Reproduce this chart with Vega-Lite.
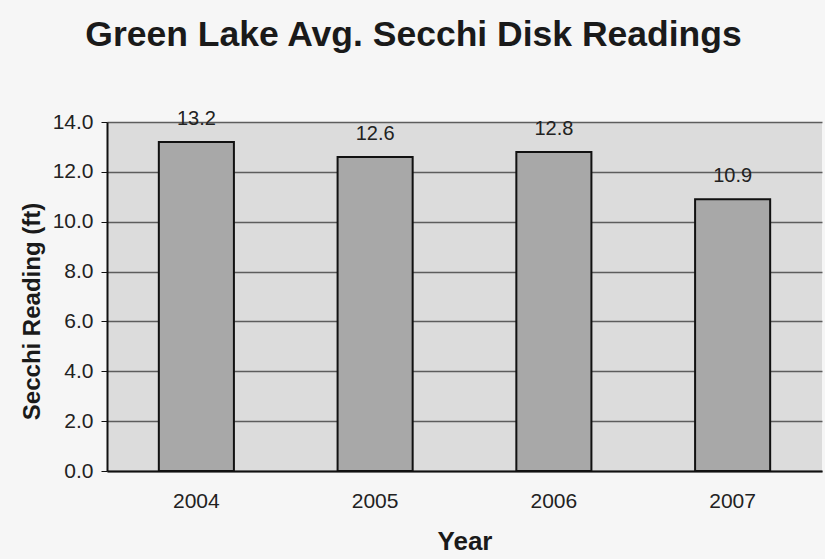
{
  "$schema": "https://vega.github.io/schema/vega-lite/v6.json",
  "width": 715,
  "height": 349,
  "autosize": {"type": "none"},
  "padding": {"left": 107, "top": 122, "right": 3, "bottom": 88},
  "background": "#f6f6f6",
  "title": {
    "text": "Green Lake Avg. Secchi Disk Readings",
    "anchor": "middle",
    "dx": -51,
    "offset": 55,
    "font": "Liberation Sans",
    "fontSize": 35.5,
    "fontWeight": "bold",
    "color": "#1a1a1a"
  },
  "data": {
    "values": [
      {"Year": "2004", "Reading": 13.2},
      {"Year": "2005", "Reading": 12.6},
      {"Year": "2006", "Reading": 12.8},
      {"Year": "2007", "Reading": 10.9}
    ]
  },
  "encoding": {
    "x": {
      "field": "Year",
      "type": "nominal",
      "scale": {"paddingInner": 0.58, "paddingOuter": 0.29},
      "axis": {
        "title": "Year",
        "labelAngle": 0,
        "ticks": false,
        "labelPadding": 19,
        "titlePadding": 17,
        "labelFontSize": 21,
        "titleFontSize": 26,
        "domainColor": "#111",
        "domainWidth": 2
      }
    },
    "y": {
      "field": "Reading",
      "type": "quantitative",
      "scale": {"domain": [0, 14]},
      "axis": {
        "title": "Secchi Reading (ft)",
        "values": [0, 2, 4, 6, 8, 10, 12, 14],
        "format": ".1f",
        "tickSize": 6,
        "tickColor": "#111",
        "labelPadding": 8,
        "titlePadding": 8,
        "titleY": 189,
        "labelFontSize": 21,
        "titleFontSize": 24,
        "domainColor": "#111",
        "domainWidth": 2,
        "gridColor": "#333",
        "gridWidth": 1.3,
        "gridOpacity": 0.75
      }
    }
  },
  "layer": [
    {
      "mark": {"type": "bar", "fill": "#a8a8a8", "stroke": "#111", "strokeWidth": 2}
    },
    {
      "mark": {"type": "text", "baseline": "bottom", "dy": -13, "fontSize": 20, "font": "Liberation Sans", "color": "#222"},
      "encoding": {"text": {"field": "Reading", "type": "quantitative", "format": ".1f"}}
    }
  ],
  "config": {
    "view": {"fill": "#dcdcdc", "stroke": null},
    "axis": {
      "labelFont": "Liberation Sans",
      "titleFont": "Liberation Sans",
      "labelColor": "#222",
      "titleColor": "#1a1a1a",
      "titleFontWeight": "bold"
    }
  }
}
